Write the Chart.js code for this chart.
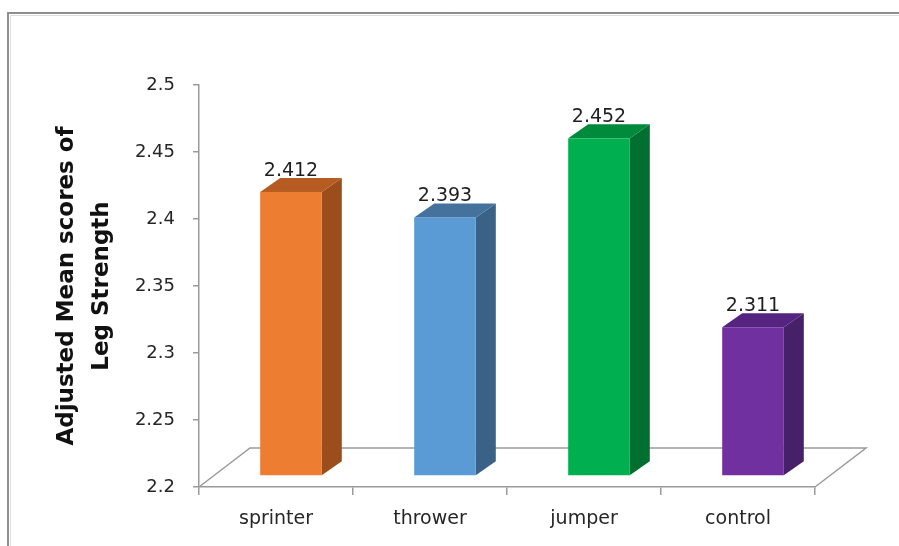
<!DOCTYPE html>
<html>
<head>
<meta charset="utf-8">
<script src="https://cdn.jsdelivr.net/npm/chart.js@4.4.1/dist/chart.umd.min.js"></script>
<style>
  html, body { margin: 0; padding: 0; background: #ffffff; }
  canvas { display: block; }
</style>
</head>
<body>
<canvas id="chart" width="899" height="546"></canvas>
<script>
// Adjusted mean leg-strength scores per group
const groups = ['sprinter', 'thrower', 'jumper', 'control'];
const adjustedMeans = [2.412, 2.393, 2.452, 2.311];
const yTickLabels = ['2.2', '2.25', '2.3', '2.35', '2.4', '2.45', '2.5'];
const yTitle = ['Adjusted Mean scores of', 'Leg Strength'];
const yMin = 2.2;
const yMax = 2.5;

// face colours of each column: front, top, side
const frontColors = ['#ED7D31', '#5B9BD5', '#00B050', '#7030A0'];
const topColors = ['#B65B22', '#45729C', '#008A3C', '#552380'];
const sideColors = ['#9C4D1C', '#3A6186', '#006F30', '#47206A'];

const AXIS_COLOR = '#9a9a9a';
const TEXT_COLOR = '#262626';
const BAR_SHIFT = { x: 15, y: -11 };    // where the columns stand on the floor
const BAR_DEPTH = { x: 20, y: -14 };    // depth of each column
const FLOOR_DEPTH = { x: 51, y: -39 };  // depth of the floor plane

// outer frame of the chart object
const framePlugin = {
  id: 'frame',
  beforeDraw(chart) {
    const ctx = chart.ctx;
    const w = chart.width, h = chart.height;
    ctx.save();
    ctx.strokeStyle = '#dddddd';
    ctx.lineWidth = 1;
    ctx.beginPath();
    ctx.moveTo(10.5, h);
    ctx.lineTo(10.5, 15.5);
    ctx.lineTo(w, 15.5);
    ctx.stroke();
    ctx.strokeStyle = '#8f8f8f';
    ctx.lineWidth = 2;
    ctx.beginPath();
    ctx.moveTo(8, h);
    ctx.lineTo(8, 13);
    ctx.lineTo(w, 13);
    ctx.stroke();
    ctx.restore();
  }
};

// floor plane behind the columns
const floorPlugin = {
  id: 'floor',
  beforeDatasetsDraw(chart) {
    const { left, right, bottom } = chart.chartArea;
    const ctx = chart.ctx;
    ctx.save();
    ctx.strokeStyle = AXIS_COLOR;
    ctx.lineWidth = 1.5;
    ctx.beginPath();
    ctx.moveTo(left, bottom);
    ctx.lineTo(left + FLOOR_DEPTH.x, bottom + FLOOR_DEPTH.y);
    ctx.lineTo(right + FLOOR_DEPTH.x, bottom + FLOOR_DEPTH.y);
    ctx.lineTo(right, bottom);
    ctx.stroke();
    ctx.restore();
  }
};

// columns drawn as boxes from the bar elements, with value labels
const columnPlugin = {
  id: 'columns3d',
  afterDatasetsDraw(chart) {
    const ctx = chart.ctx;
    const meta = chart.getDatasetMeta(0);
    ctx.save();
    meta.data.forEach((bar, i) => {
      const { x, y, base, width } = bar.getProps(['x', 'y', 'base', 'width'], true);
      const l = x - width / 2 + BAR_SHIFT.x;
      const r = x + width / 2 + BAR_SHIFT.x;
      const t = y + BAR_SHIFT.y;
      const b = base + BAR_SHIFT.y;
      const dx = BAR_DEPTH.x, dy = BAR_DEPTH.y;

      // side face
      ctx.fillStyle = sideColors[i];
      ctx.beginPath();
      ctx.moveTo(r, t);
      ctx.lineTo(r + dx, t + dy);
      ctx.lineTo(r + dx, b + dy);
      ctx.lineTo(r, b);
      ctx.closePath();
      ctx.fill();

      // top face
      ctx.fillStyle = topColors[i];
      ctx.beginPath();
      ctx.moveTo(l, t);
      ctx.lineTo(l + dx, t + dy);
      ctx.lineTo(r + dx, t + dy);
      ctx.lineTo(r, t);
      ctx.closePath();
      ctx.fill();

      // front face
      ctx.fillStyle = frontColors[i];
      ctx.fillRect(l, t, r - l, b - t);

      // value label
      ctx.fillStyle = '#1e1e1e';
      ctx.font = '19px "DejaVu Sans"';
      ctx.textAlign = 'center';
      ctx.textBaseline = 'alphabetic';
      ctx.fillText(adjustedMeans[i].toFixed(3), (l + r) / 2, t + dy - 2);
    });
    ctx.restore();
  }
};

new Chart(document.getElementById('chart'), {
  type: 'bar',
  data: {
    labels: groups,
    datasets: [{
      data: adjustedMeans,
      base: yMin,
      backgroundColor: 'rgba(0,0,0,0)',
      borderWidth: 0,
      barPercentage: 0.4,
      categoryPercentage: 1.0
    }]
  },
  options: {
    responsive: false,
    animation: false,
    devicePixelRatio: 1,
    layout: { padding: { left: 0, top: 85, right: 84, bottom: 0 } },
    plugins: {
      legend: { display: false },
      tooltip: { enabled: false }
    },
    scales: {
      x: {
        offset: true,
        grid: {
          offset: true,
          drawOnChartArea: false,
          tickLength: 8,
          color: AXIS_COLOR,
          lineWidth: 1.5
        },
        border: { color: AXIS_COLOR, width: 1.5 },
        ticks: {
          padding: 13,
          color: TEXT_COLOR,
          font: { family: 'DejaVu Sans', size: 19 }
        },
        afterFit(scale) { scale.height = 59; }
      },
      y: {
        min: yMin,
        max: yMax,
        ticks: {
          stepSize: 0.05,
          padding: 18,
          color: TEXT_COLOR,
          font: { family: 'DejaVu Sans', size: 18 },
          callback: (value, index) => yTickLabels[index]
        },
        grid: {
          drawOnChartArea: false,
          tickLength: 6,
          color: AXIS_COLOR,
          lineWidth: 1.5
        },
        border: { color: AXIS_COLOR, width: 1.5 },
        title: {
          display: true,
          text: yTitle,
          color: '#111111',
          font: { family: 'DejaVu Sans', size: 23, weight: 'bold', lineHeight: '35px' },
          padding: { top: 50, bottom: 0 }
        },
        afterFit(scale) { scale.width = 199; }
      }
    }
  },
  plugins: [framePlugin, floorPlugin, columnPlugin]
});
</script>
</body>
</html>
